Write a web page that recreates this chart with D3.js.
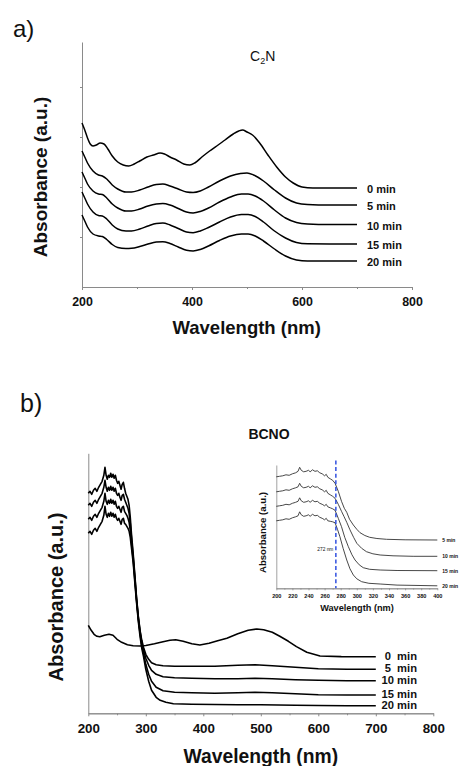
<!DOCTYPE html>
<html><head><meta charset="utf-8">
<script src="https://cdn.jsdelivr.net/npm/d3@7"></script>
<style>
html,body{margin:0;padding:0;background:#fff;}
svg{display:block;font-family:"Liberation Sans",Arial,Helvetica,sans-serif;}
</style></head><body>
<svg id="c" width="459" height="766"></svg>
<script>
// ---------- DATA ----------
// Panel a) C2N : [wavelength nm, absorbance a.u. (offset stacked)]
const seriesNamesA = ["0 min","5 min","10 min","15 min","20 min"];
const a_0min = [[200,164],[205,157],[210,149],[215,143],[220,141],[226,142],[233,144],[240,143],[247,138],[255,131],[265,125],[275,122],[285,121],[295,123],[305,126],[318,130],[330,132],[342,134],[350,133],[360,130],[372,127],[385,123],[396,122],[405,124],[418,130],[432,136],[445,141],[460,147],[475,153],[485,156],[492,157],[500,155],[510,152],[523,144],[538,132],[554,120],[570,110],[584,104],[600,100],[620,99],[650,99],[700,99]];
const a_5min = [[200,136],[205,130],[210,124],[220,116],[230,112],[237,111],[245,108],[255,102],[265,98],[280,95],[290,95],[305,97],[320,100],[335,102.5],[347,103],[360,101],[375,98],[390,95],[402,94.5],[415,96],[430,100],[450,106],[470,111],[488,113.5],[500,114],[512,112],[530,106],[550,97],[570,89],[590,84],[610,82.5],[650,82],[700,82]];
const a_10min = [[200,115],[205,109],[210,103],[220,96],[230,93],[237,92.5],[245,89],[255,83],[265,79],[280,76],[290,76],[305,78],[320,81],[335,83],[347,83.5],[360,82],[375,78.5],[390,75],[402,74],[415,75.5],[430,79],[450,85],[470,90],[490,93],[502,93],[515,91],[530,86],[550,77],[570,69],[590,64.5],[610,63],[650,62.5],[700,62.5]];
const a_15min = [[200,95],[205,89],[210,83],[220,75],[230,71.5],[237,71],[245,68],[255,62],[265,58],[280,56],[290,56],[305,58],[320,61],[335,63.5],[347,64],[360,62],[375,58.5],[390,55],[402,54.3],[415,56],[430,59.5],[450,65],[470,70],[490,72.5],[502,72.5],[515,70.5],[530,65],[550,56],[570,49],[590,44.5],[610,43.2],[650,43],[700,43]];
const a_20min = [[200,72],[205,66],[210,60],[220,53],[230,51],[237,50.5],[245,47.5],[255,42.5],[265,39.5],[280,38.5],[290,38.7],[305,40.5],[320,43],[335,45],[347,45.3],[360,43.5],[375,40],[390,36.8],[402,36],[415,37.5],[430,41],[450,46.5],[470,51],[490,53],[502,53],[515,51],[530,46],[550,38],[570,31],[590,27],[610,26],[650,26],[700,26]];

// Panel b) BCNO main
const seriesNamesB = ["0  min","5  min","10 min","15 min","20 min"];
const b_0min = [[200,88],[205,83],[210,79],[215,77],[220,76.5],[228,78],[236,79],[243,78],[250,74],[258,71],[268,68.5],[278,67.5],[290,67.3],[300,67.8],[315,69.5],[330,71.5],[342,73],[352,73.5],[365,72],[380,69.5],[394,68.3],[410,70],[425,72.5],[441,75],[460,79.5],[478,83],[493,84.3],[505,83.5],[520,81],[533,77],[548,72],[562,66.7],[580,61],[603,57.3],[640,56.7],[700,56.5]];
const b_5min = [[200,220],[203,222],[206,219],[209,223],[212,225],[215,222],[218,226],[221,229],[224,232],[227,238],[229,246],[231,238],[233,234],[235,238],[237,236],[239,240],[241,236],[243,239],[245,235],[247,238],[249,233],[251,230],[253,232],[255,228],[257,224],[259,229],[261,231],[263,225],[265,220],[267,217],[269,214],[271,208],[273,196],[275,180],[278,160],[281,138],[284,115],[287,97],[290,83],[293,73],[296,66],[300,59],[305,54],[310,50.5],[318,48.5],[330,47.5],[350,47],[380,47],[420,47],[460,48],[490,48.5],[520,47.5],[560,46],[600,44.5],[650,44],[700,44]];
const b_10min = [[200,208],[203,210],[206,207],[209,211],[212,213],[215,210],[218,214],[221,217],[224,220],[227,226],[229,233],[231,226],[233,222],[235,226],[237,223],[239,227],[241,223],[243,226],[245,222],[247,225],[249,220],[251,218],[253,220],[255,216],[257,213],[259,218],[261,219],[263,214],[265,211],[267,208],[269,205],[271,200],[273,190],[275,176],[278,157],[281,136],[284,114],[287,96],[290,82],[293,71],[296,63],[300,55],[305,48],[310,43],[318,39],[330,36.5],[350,35.5],[380,35],[420,34.5],[460,34.5],[490,35],[520,34.5],[560,33.5],[600,33],[650,32.5],[700,32.5]];
const b_15min = [[200,194],[203,196],[206,193],[209,197],[212,199],[215,196],[218,200],[221,203],[224,206],[227,212],[229,220],[231,212],[233,209],[235,213],[237,210],[239,214],[241,210],[243,213],[245,209],[247,212],[249,207],[251,205],[253,207],[255,204],[257,201],[259,206],[261,207],[263,202],[265,200],[267,198],[269,195],[271,191],[273,183],[275,171],[278,154],[281,133],[284,112],[287,94],[290,80],[293,68],[296,60],[300,49],[305,39],[310,32],[318,26],[330,22.5],[350,21],[380,20.5],[420,20],[460,20.5],[490,21],[520,20.5],[560,19.5],[600,18.5],[650,18.3],[700,18.3]];
const b_20min = [[200,180],[203,182],[206,179],[209,183],[212,185],[215,182],[218,186],[221,189],[224,192],[227,198],[229,207],[231,199],[233,196],[235,200],[237,197],[239,201],[241,197],[243,200],[245,196],[247,199],[249,195],[251,193],[253,195],[255,192],[257,189],[259,194],[261,195],[263,190],[265,189],[267,187],[269,185],[271,182],[273,176],[275,166],[278,151],[281,130],[284,110],[287,92],[290,77],[293,65],[296,57],[300,44],[305,32],[310,23],[318,16],[325,13],[335,11],[348,9.5],[380,9],[420,8.8],[460,8.5],[500,8.5],[560,8],[600,7.8],[650,7.5],[700,7.5]];

// Inset (200-400 nm)
const seriesNamesI = ["5 min","10 min","15 min","20 min"];
const i_5min = [[200,111.5],[204,112],[208,112.5],[212,113.5],[216,113],[220,114.5],[224,115.5],[227,117],[229,121],[231,118],[234,116.5],[237,117],[240,118],[242,116.5],[245,118.5],[248,117],[251,117.5],[254,115.5],[257,114.5],[260,112.5],[262,114],[264,111],[267,109.5],[270,108],[273,105],[277,97],[281,87],[284.5,80],[287.5,76],[291,69],[295.7,63.3],[300,59],[304,55.6],[310,52.8],[316,51],[325,49.8],[337,49],[360,48.5],[400,48.3]];
const i_10min = [[200,96.5],[204,97],[208,97.5],[212,98.5],[216,98],[220,99.5],[224,100.5],[227,101.5],[229,105],[231,102],[234,100.5],[237,101],[240,102],[242,100.5],[245,102.5],[248,101],[251,101.5],[254,99.5],[257,98.5],[260,96.5],[262,98],[264,95],[267,93.5],[270,92],[273,90],[277,84],[281,77],[284,72],[287.5,66],[291.5,58.5],[296,51],[300,45],[306,40],[312,36.6],[320,34.5],[329,33.3],[345,32.5],[370,32],[400,32]];
const i_15min = [[200,82],[204,82.5],[208,83],[212,84],[216,83.5],[220,85],[224,86],[227,87],[229,90.5],[231,87.5],[234,86],[237,86.5],[240,87.5],[242,86],[245,88],[248,86.5],[251,87],[254,85],[257,84],[260,82.5],[262,84],[264,81.5],[267,80.5],[270,79.5],[273,78],[277,70],[281,61.6],[285,51],[289.5,41.6],[294,33.5],[297.8,28.3],[303,23.5],[308,20.6],[316,19],[329,18.3],[350,17.8],[400,17.6]];
const i_20min = [[200,67.5],[204,68],[208,68.5],[212,69.5],[216,69],[220,70.5],[224,71.5],[227,72.5],[229,76.5],[231,73.5],[234,72],[237,72.5],[240,73.5],[242,72],[245,74],[248,72.5],[251,73],[254,71],[257,70],[260,68.5],[262,70],[264,67.5],[267,67],[270,66.5],[273,65.5],[276,59],[279,51.6],[283,40],[287.5,28.3],[291.5,19.5],[295.7,13.3],[300,9.5],[306,6.6],[315,5],[329,4.3],[350,3.2],[400,2.5]];
const markerWL = 274;           // dashed marker position (labelled 272 nm)
const markerLabel = "272 nm";

// Tick values
const ticksA = [200,400,600,800];
const minorA = [300,500,700];
const yTicksA = [50,100,150,200];
const ticksB = [200,300,400,500,600,700,800];
const minorB = [250,350,450,550,650,750];
const ticksI = [200,220,240,260,280,300,320,340,360,380,400];
const minorI = [210,230,250,270,290,310,330,350,370,390];

// ---------- DRAW ----------
const svg = d3.select('#c');
const AX = '#8a8a8a';
const FONT = '"Liberation Sans",Arial,Helvetica,sans-serif';

function xAxis(scale, y, major, minor, fs, majLen, minLen, pad, sw){
  const g1 = svg.append('g').attr('transform',`translate(0,${y})`)
    .call(d3.axisBottom(scale).tickValues(minor).tickSize(minLen).tickSizeOuter(0).tickFormat(''));
  const g2 = svg.append('g').attr('transform',`translate(0,${y})`)
    .call(d3.axisBottom(scale).tickValues(major).tickSize(majLen).tickSizeOuter(0).tickPadding(pad).tickFormat(d3.format('d')));
  [g1,g2].forEach(g=>{ g.selectAll('path,line').attr('stroke',AX).attr('stroke-width',sw); });
  g2.attr('font-family',FONT).attr('font-size',fs).attr('font-weight','bold');
  g2.selectAll('text').attr('fill','#111');
}
function yAxis(scale, x, ticks, len, sw){
  const g = svg.append('g').attr('transform',`translate(${x},0)`)
    .call(d3.axisLeft(scale).tickValues(ticks).tickSize(len).tickSizeOuter(0).tickFormat(''));
  g.selectAll('path,line').attr('stroke',AX).attr('stroke-width',sw);
}
function text(x,y,str,fs,weight,anchor,rot){
  const t = svg.append('text').attr('x',x).attr('y',y).text(str)
    .attr('font-family',FONT).attr('font-size',fs).attr('font-weight',weight||'normal')
    .attr('text-anchor',anchor||'start').attr('fill','#111').style('white-space','pre');
  if(rot) t.attr('transform',`rotate(${rot},${x},${y})`);
  return t;
}

// ===== Panel a =====
const xa = d3.scaleLinear().domain([200,800]).range([82,412]);
const ya = d3.scaleLinear().domain([0,245]).range([287,42]);
xAxis(xa, 287, ticksA, minorA, 12.4, 3, 2, 7, 1);
yAxis(ya, 82, yTicksA, 2, 1);
const lineA = d3.line().x(d=>xa(d[0])).y(d=>ya(d[1])).curve(d3.curveMonotoneX);
const seriesA = [a_0min,a_5min,a_10min,a_15min,a_20min];
seriesA.forEach((s,i)=>{
  svg.append('path').attr('d',lineA(s)).attr('fill','none').attr('stroke','#000').attr('stroke-width',1.5);
  const last = s[s.length-1];
  text(xa(last[0])+10, ya(last[1])+5, seriesNamesA[i], 11, 'bold');
});
text(13,37,'a)',24,'normal');
const c2n = svg.append('text').attr('x',250).attr('y',60.5).attr('font-family',FONT).attr('font-size',14).attr('fill','#111');
c2n.append('tspan').text('C');
c2n.append('tspan').text('2').attr('font-size',9).attr('dy',3.5);
c2n.append('tspan').text('N').attr('dy',-3.5);
text(246.7,334,'Wavelength (nm)',18.5,'bold','middle');
text(46.5,177,'Absorbance (a.u.)',19,'bold','middle',-90);

// ===== Panel b =====
const xb = d3.scaleLinear().domain([200,800]).range([88.3,433.3]);
const yb = d3.scaleLinear().domain([0,260]).range([713.3,453.3]);
xAxis(xb, 713.3, ticksB, minorB, 13.4, 3, 2, 6.7, 1);
yAxis(yb, 88.3, [], 0, 1);
const lineB = d3.line().x(d=>xb(d[0])).y(d=>yb(d[1])).curve(d3.curveLinear);
const seriesB = [b_0min,b_5min,b_10min,b_15min,b_20min];
seriesB.forEach((s,i)=>{
  svg.append('path').attr('d',lineB(s)).attr('fill','none').attr('stroke','#000').attr('stroke-width',1.6).attr('stroke-linejoin','round');
  const last = s[s.length-1];
  text(417, yb(last[1])+3, seriesNamesB[i], 11.2, 'bold', 'end');
});
text(20,412,'b)',25,'normal');
text(269,439,'BCNO',14,'bold','middle');
text(260.8,763,'Wavelength (nm)',19.3,'bold','middle');
text(63,597,'Absorbance (a.u.)',20,'bold','middle',-90);

// ===== Inset =====
const xi = d3.scaleLinear().domain([200,400]).range([276.3,437.3]);
const yi = d3.scaleLinear().domain([0,123.3]).range([588.3,465]);
xAxis(xi, 588.3, ticksI, minorI, 5.6, 2, 1.3, 3.3, 0.8);
yAxis(yi, 276.3, [], 0, 0.8);
const lineI = d3.line().x(d=>xi(d[0])).y(d=>yi(d[1])).curve(d3.curveLinear);
const seriesI = [i_5min,i_10min,i_15min,i_20min];
seriesI.forEach((s,i)=>{
  svg.append('path').attr('d',lineI(s)).attr('fill','none').attr('stroke','#333').attr('stroke-width',0.9).attr('stroke-linejoin','round');
  const last = s[s.length-1];
  text(xi(last[0])+5, yi(last[1])+2, seriesNamesI[i], 5, 'bold');
});
svg.append('line').attr('x1',xi(markerWL)).attr('x2',xi(markerWL)).attr('y1',460.5).attr('y2',588.3)
  .attr('stroke','#2244dd').attr('stroke-width',1.4).attr('stroke-dasharray','4,2.6');
text(xi(markerWL)-2.5, 550.5, markerLabel, 4.8, 'normal', 'end');
text(357,610.5,'Wavelength (nm)',9.2,'bold','middle');
text(266,532.5,'Absorbance (a.u.)',9.6,'bold','middle',-90);
</script>
</body></html>
